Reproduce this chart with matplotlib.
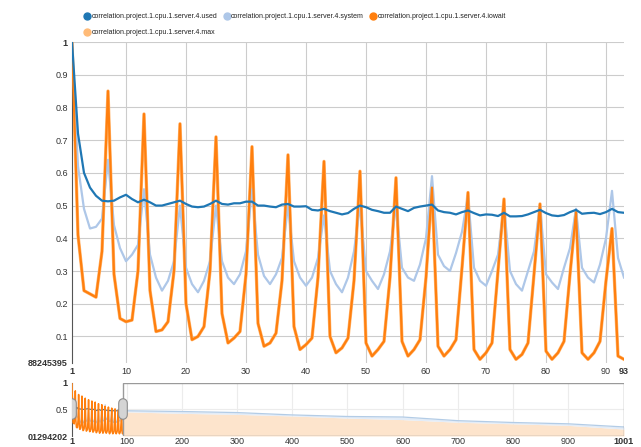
import matplotlib
matplotlib.use("Agg")
import matplotlib.pyplot as plt
from matplotlib.lines import Line2D
from matplotlib.patches import Rectangle

plt.rcParams['font.family'] = ['Liberation Sans', 'DejaVu Sans']

# lag 1..93 (zoomed window)
lags = list(range(1, 94))

used = [1.00, 0.72, 0.60, 0.555, 0.53, 0.515, 0.513, 0.515, 0.525, 0.533,
        0.52, 0.51, 0.518, 0.51, 0.50, 0.50, 0.505, 0.51, 0.515, 0.505,
        0.497, 0.495, 0.497, 0.505, 0.515, 0.505, 0.503, 0.507, 0.507, 0.512,
        0.512, 0.50, 0.50, 0.497, 0.495, 0.503, 0.505, 0.497, 0.497, 0.498,
        0.487, 0.485, 0.49, 0.483, 0.478, 0.473, 0.477, 0.49, 0.50, 0.495,
        0.487, 0.483, 0.478, 0.478, 0.497, 0.49, 0.483, 0.493, 0.497, 0.50,
        0.503, 0.485, 0.48, 0.478, 0.473, 0.48, 0.485, 0.477, 0.47, 0.473,
        0.472, 0.468, 0.478, 0.467, 0.467, 0.468, 0.473, 0.48, 0.487, 0.477,
        0.47, 0.468, 0.471, 0.48, 0.487, 0.475, 0.477, 0.478, 0.474, 0.48,
        0.49, 0.48, 0.478]

system = [0.98, 0.62, 0.49, 0.43, 0.435, 0.46, 0.64, 0.44, 0.37, 0.33,
          0.35, 0.38, 0.55, 0.35, 0.28, 0.24, 0.27, 0.33, 0.50, 0.31,
          0.26, 0.235, 0.27, 0.33, 0.50, 0.33, 0.28, 0.26, 0.29, 0.36,
          0.55, 0.35, 0.285, 0.26, 0.29, 0.34, 0.50, 0.33, 0.28, 0.255,
          0.28, 0.34, 0.47, 0.30, 0.26, 0.235, 0.28, 0.36, 0.50, 0.30,
          0.27, 0.245, 0.29, 0.36, 0.50, 0.31, 0.28, 0.27, 0.32, 0.40,
          0.59, 0.35, 0.315, 0.30, 0.355, 0.42, 0.53, 0.31, 0.27, 0.255,
          0.30, 0.35, 0.50, 0.30, 0.26, 0.24, 0.30, 0.36, 0.50, 0.29,
          0.265, 0.245, 0.31, 0.37, 0.49, 0.31, 0.28, 0.265, 0.32, 0.40,
          0.545, 0.34, 0.28]

iowait = [1.00, 0.41, 0.24, 0.23, 0.22, 0.36, 0.85, 0.29, 0.155, 0.145,
          0.15, 0.30, 0.78, 0.24, 0.115, 0.12, 0.145, 0.30, 0.75, 0.20,
          0.09, 0.10, 0.13, 0.30, 0.71, 0.17, 0.08, 0.095, 0.115, 0.29,
          0.68, 0.14, 0.07, 0.08, 0.11, 0.27, 0.655, 0.13, 0.06, 0.075,
          0.095, 0.28, 0.635, 0.10, 0.05, 0.065, 0.095, 0.27, 0.605, 0.08,
          0.04, 0.06, 0.085, 0.28, 0.585, 0.085, 0.04, 0.06, 0.09, 0.28,
          0.555, 0.07, 0.04, 0.06, 0.09, 0.31, 0.54, 0.06, 0.03, 0.05,
          0.08, 0.30, 0.52, 0.06, 0.03, 0.045, 0.08, 0.29, 0.505, 0.055,
          0.03, 0.05, 0.085, 0.29, 0.48, 0.05, 0.03, 0.05, 0.085, 0.27,
          0.43, 0.04, 0.03]

# max sits underneath iowait in the zoomed view
cpu_max = list(iowait)

names = ['correlation.project.1.cpu.1.server.4.used',
         'correlation.project.1.cpu.1.server.4.system',
         'correlation.project.1.cpu.1.server.4.iowait',
         'correlation.project.1.cpu.1.server.4.max']
colors = ['#1f77b4', '#aec7e8', '#ff7f0e', '#ffbb78']

main_ymin = 0.0188245395
nav_ymin = -0.01294202
x_ticks = [1, 10, 20, 30, 40, 50, 60, 70, 80, 90, 93]
y_ticks = [main_ymin, 0.1, 0.2, 0.3, 0.4, 0.5, 0.6, 0.7, 0.8, 0.9, 1.0]
y_labels = ['88245395', '0.1', '0.2', '0.3', '0.4', '0.5', '0.6', '0.7',
            '0.8', '0.9', '1']
nav_xticks = [1, 100, 200, 300, 400, 500, 600, 700, 800, 900, 1001]

# rough envelope of the full 1..1001 range outside the selection
nav_x = [93, 200, 300, 400, 500, 600, 700, 800, 900, 1001]
nav_used = [0.47, 0.455, 0.435, 0.39, 0.36, 0.35, 0.28, 0.245, 0.22, 0.16]
nav_peak = [0.45, 0.42, 0.40, 0.37, 0.33, 0.30, 0.25, 0.22, 0.19, 0.12]

TXT = '#333333'
FS = 6.5

fig = plt.figure(figsize=(6.41, 4.47), dpi=100)
ax = fig.add_axes([72 / 641, 1 - 363 / 447, 552 / 641, 321 / 447])
nav = fig.add_axes([72 / 641, 1 - 436 / 447, 552 / 641, 53 / 447])

# main chart
ax.plot(lags, cpu_max, color=colors[3], lw=2.4, zorder=2)
ax.plot(lags, system, color=colors[1], lw=1.6, zorder=3)
ax.plot(lags, iowait, color=colors[2], lw=1.6, zorder=4)
ax.plot(lags, used, color=colors[0], lw=1.6, zorder=5)
ax.set_xlim(1, 93)
ax.set_ylim(main_ymin, 1.0)
ax.set_xticks(x_ticks)
ax.set_xticklabels([str(t) for t in x_ticks])
ax.set_yticks(y_ticks)
ax.set_yticklabels(y_labels)
ax.tick_params(length=0, labelsize=FS, labelcolor=TXT, pad=3)
ax.grid(color='#cccccc', lw=0.8)
ax.set_axisbelow(True)
ax.get_xgridlines()[0].set_visible(False)
ax.get_xgridlines()[-1].set_visible(False)
ax.get_ygridlines()[0].set_visible(False)
for t in [ax.get_xticklabels()[0], ax.get_xticklabels()[-1],
          ax.get_yticklabels()[0], ax.get_yticklabels()[-1]]:
    t.set_fontweight('bold')
for s in ['top', 'right', 'bottom']:
    ax.spines[s].set_visible(False)
ax.spines['left'].set_color('#555555')

# navigator
nav.fill_between(nav_x, nav_ymin, nav_peak, color='#fde4cc', lw=0, zorder=1)
nav.fill_between(nav_x, nav_peak, nav_used, color='#e3ecf7', lw=0, zorder=1)
nav.plot(nav_x, nav_used, color='#b3cce6', lw=0.9, zorder=2)
nav.plot(lags, used, color='#4a6f96', lw=0.8, zorder=3)
nav.plot(lags, system, color=colors[1], lw=0.6, zorder=3)
nav.plot(lags, iowait, color=colors[2], lw=1.1, zorder=4)
nav.add_patch(Rectangle((93, nav_ymin), 1001 - 93, 1 - nav_ymin, fill=False,
                        edgecolor='#9a9a9a', lw=1.0, zorder=5))
for hx in [1, 93]:
    nav.plot([hx, hx], [0.38, 0.62], color='#8c8c8c', lw=7,
             solid_capstyle='round', zorder=6)
    nav.plot([hx, hx], [0.38, 0.62], color='#d4d4d4', lw=5.4,
             solid_capstyle='round', zorder=7)
nav.set_xlim(1, 1001)
nav.set_ylim(nav_ymin, 1.0)
nav.set_xticks(nav_xticks)
nav.set_xticklabels([str(t) for t in nav_xticks])
nav.set_yticks([nav_ymin, 0.5, 1.0])
nav.set_yticklabels(['01294202', '0.5', '1'])
nav.tick_params(length=0, labelsize=FS, labelcolor=TXT, pad=3)
nav.tick_params(axis='x', pad=1)
nav.grid(color='#ececec', lw=0.8)
nav.set_axisbelow(True)
nav.get_xgridlines()[0].set_visible(False)
nav.get_xgridlines()[-1].set_visible(False)
nav.get_ygridlines()[0].set_visible(False)
nav.get_ygridlines()[-1].set_visible(False)
for t in [nav.get_xticklabels()[0], nav.get_xticklabels()[-1],
          nav.get_yticklabels()[0], nav.get_yticklabels()[-1]]:
    t.set_fontweight('bold')
for s in ['top', 'right', 'bottom']:
    nav.spines[s].set_visible(False)
nav.spines['left'].set_color('#555555')

# legend, row-major: used, system, iowait / max
order = [0, 3, 1, 2]
handles = [Line2D([], [], ls='none', marker='o', ms=5, color=colors[i]) for i in order]
fig.legend(handles, [names[i] for i in order], ncol=3, loc='upper left',
           bbox_to_anchor=(0.131, 0.970), frameon=False, fontsize=5.05,
           handlelength=0.8, handletextpad=0.25, columnspacing=0.95,
           labelspacing=1.25, borderpad=0, borderaxespad=0, labelcolor='#222222')

fig.savefig('out.png', dpi=100)
